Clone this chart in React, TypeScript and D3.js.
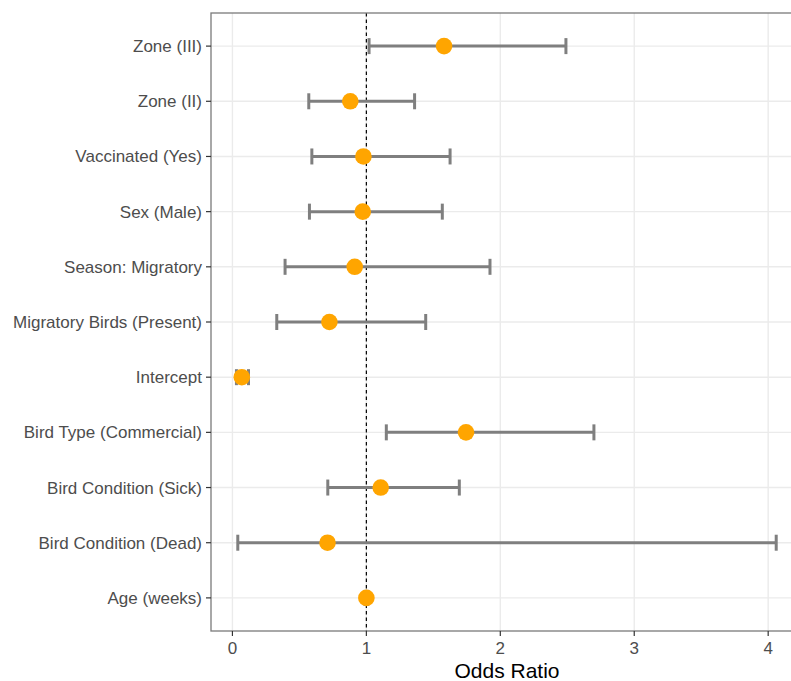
import React from "react";
import * as d3 from "d3";

const categories = [
  "Zone (III)",
  "Zone (II)",
  "Vaccinated (Yes)",
  "Sex (Male)",
  "Season: Migratory",
  "Migratory Birds (Present)",
  "Intercept",
  "Bird Type (Commercial)",
  "Bird Condition (Sick)",
  "Bird Condition (Dead)",
  "Age (weeks)",
];
const oddsRatio = [1.58, 0.88, 0.978, 0.973, 0.913, 0.724, 0.07, 1.744, 1.107, 0.71, 1.0];
const ciLow = [1.02, 0.57, 0.593, 0.575, 0.393, 0.331, 0.03, 1.149, 0.712, 0.04, 0.99];
const ciHigh = [2.49, 1.36, 1.625, 1.567, 1.923, 1.443, 0.12, 2.699, 1.694, 4.06, 1.01];
const xTicks = [0, 1, 2, 3, 4];
const refLine = 1;
const xTitle = "Odds Ratio";

const W = 791;
const H = 681;
const panel = { left: 211, top: 13, right: 803, bottom: 631 };

export default function App() {
  const x = d3.scaleLinear().domain([-0.16, 4.26]).range([panel.left, panel.right]);
  const y = d3
    .scalePoint<string>()
    .domain(categories)
    .range([panel.top, panel.bottom])
    .padding(0.6);

  const font = "'Liberation Sans', Arial, Helvetica, sans-serif";
  const capH = 8;

  return (
    <svg
      width={W}
      height={H}
      style={{ position: "absolute", left: 0, top: 0, background: "#fff" }}
      fontFamily={font}
    >
      <rect x={0} y={0} width={W} height={H} fill="#fff" />
      {/* grid */}
      {categories.map((c) => (
        <line
          key={"hg" + c}
          x1={panel.left}
          x2={panel.right}
          y1={y(c)}
          y2={y(c)}
          stroke="#ebebeb"
          strokeWidth={1.4}
        />
      ))}
      {xTicks.map((t) => (
        <line
          key={"vg" + t}
          x1={x(t)}
          x2={x(t)}
          y1={panel.top}
          y2={panel.bottom}
          stroke="#ebebeb"
          strokeWidth={1.4}
        />
      ))}
      {/* reference line */}
      <line
        x1={x(refLine)}
        x2={x(refLine)}
        y1={panel.top}
        y2={panel.bottom}
        stroke="#000"
        strokeWidth={1.2}
        strokeDasharray="3.5,3"
      />
      {/* error bars */}
      {categories.map((c, i) => {
        const yy = y(c) as number;
        return (
          <g key={"eb" + c} stroke="#7f7f7f" strokeWidth={3} fill="none">
            <line x1={x(ciLow[i])} x2={x(ciHigh[i])} y1={yy} y2={yy} />
            <line x1={x(ciLow[i])} x2={x(ciLow[i])} y1={yy - capH} y2={yy + capH} />
            <line x1={x(ciHigh[i])} x2={x(ciHigh[i])} y1={yy - capH} y2={yy + capH} />
          </g>
        );
      })}
      {/* points */}
      {categories.map((c, i) => (
        <circle key={"pt" + c} cx={x(oddsRatio[i])} cy={y(c)} r={8.3} fill="#FFA500" />
      ))}
      {/* panel border */}
      <rect
        x={panel.left}
        y={panel.top}
        width={panel.right - panel.left}
        height={panel.bottom - panel.top}
        fill="none"
        stroke="#7a7a7a"
        strokeWidth={1.3}
      />
      {/* y axis ticks & labels */}
      {categories.map((c) => (
        <g key={"yl" + c}>
          <line
            x1={panel.left - 5}
            x2={panel.left}
            y1={y(c)}
            y2={y(c)}
            stroke="#333"
            strokeWidth={1.2}
          />
          <text
            x={panel.left - 9}
            y={(y(c) as number) + 6}
            textAnchor="end"
            fontSize={17}
            fill="#4d4d4d"
          >
            {c}
          </text>
        </g>
      ))}
      {/* x axis ticks & labels */}
      {xTicks.map((t) => (
        <g key={"xl" + t}>
          <line
            x1={x(t)}
            x2={x(t)}
            y1={panel.bottom}
            y2={panel.bottom + 5}
            stroke="#333"
            strokeWidth={1.2}
          />
          <text x={x(t)} y={654} textAnchor="middle" fontSize={17} fill="#4d4d4d">
            {t}
          </text>
        </g>
      ))}
      <text
        x={(panel.left + panel.right) / 2}
        y={678}
        textAnchor="middle"
        fontSize={21}
        fill="#000"
      >
        {xTitle}
      </text>
    </svg>
  );
}
